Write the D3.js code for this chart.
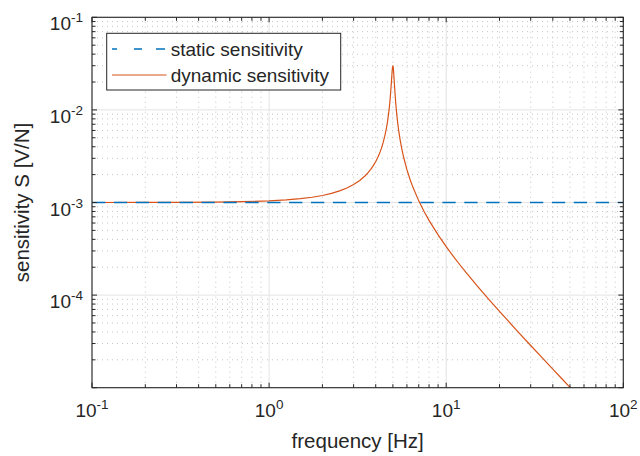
<!DOCTYPE html>
<html>
<head>
<meta charset="utf-8">
<script src="https://cdn.jsdelivr.net/npm/d3@7"></script>
<style>
  body { margin: 0; background: #fff; }
  svg { font-family: "Liberation Sans", Arial, Helvetica, sans-serif; }
</style>
</head>
<body>
<svg id="chart" width="640" height="456"></svg>
<script>
// values
var freq = [0.1, 0.2, 0.3, 0.5, 0.7, 1, 1.25, 1.5, 1.75, 2, 2.25, 2.5, 2.75, 3, 3.25, 3.5, 3.6, 3.75, 3.9, 4, 4.1, 4.2,
            4.25, 4.3, 4.4, 4.5, 4.6, 4.65, 4.7, 4.75, 4.8, 4.85, 4.9, 4.925, 4.95, 4.975,
            5, 5.025, 5.05, 5.075, 5.1, 5.15, 5.2, 5.25, 5.3, 5.35, 5.4, 5.5, 5.6, 5.75, 6, 6.25, 6.5, 7, 7.5,
            8, 9, 10, 11, 12, 13, 15, 17.5, 20, 25, 30, 35, 40, 45, 50, 60, 70, 100];
var dynamicSens = [1.0004e-3, 1.0016e-3, 1.0036e-3, 1.0101e-3, 1.020e-3, 1.0417e-3, 1.0667e-3, 1.0989e-3, 1.1396e-3, 1.1905e-3,
                   1.2539e-3, 1.3333e-3, 1.4337e-3, 1.5625e-3, 1.7316e-3, 1.959e-3, 2.0738e-3, 2.282e-3, 2.548e-3, 2.770e-3, 3.042e-3,
                   3.381e-3, 3.585e-3, 3.817e-3, 4.396e-3, 5.198e-3, 6.384e-3, 7.215e-3, 8.30e-3, 9.755e-3, 11.81e-3, 14.84e-3,
                   19.48e-3, 22.56e-3, 25.95e-3, 28.87e-3,
                   30.0e-3, 28.60e-3, 25.5e-3, 22.04e-3, 18.94e-3, 14.30e-3, 11.28e-3, 9.233e-3, 7.78e-3, 6.701e-3, 5.874e-3, 4.69e-3,
                   3.889e-3, 3.08e-3, 2.263e-3, 1.773e-3, 1.449e-3, 1.0413e-3, 0.8e-3,
                   0.641e-3, 0.4464e-3, 0.3333e-3, 0.2604e-3, 0.2101e-3, 0.1736e-3, 0.125e-3, 0.08889e-3, 0.0667e-3, 0.04167e-3,
                   0.02857e-3, 0.020833e-3, 0.01587e-3, 0.0125e-3, 0.0101e-3, 0.006993e-3, 0.005128e-3, 0.002506e-3];
var staticFreq = [0.1, 100];
var staticSens = [1e-3, 1e-3];
var xTickExp = [-1, 0, 1, 2];
var yTickExp = [-1, -2, -3, -4];
var seriesNames = ["static sensitivity", "dynamic sensitivity"];

var blue = "#0072BD", orange = "#D95319", ink = "#262626";

var width = 640, height = 456;
var m = {top: 17.3, right: 16.7, bottom: 68.3, left: 92};

var x = d3.scaleLog().domain([0.1, 100]).range([m.left, width - m.right]);
var y = d3.scaleLog().domain([1e-5, 1e-1]).range([height - m.bottom, m.top]);

var svg = d3.select("#chart");

function isMajor(v) {
  var e = Math.log10(v);
  return Math.abs(e - Math.round(e)) < 1e-9;
}

var xt = x.ticks(), yt = y.ticks();
var x0 = x.range()[0], x1 = x.range()[1], y0 = y.range()[0], y1 = y.range()[1];

// grid
var grid = svg.append("g");
grid.selectAll(".xminor").data(xt.filter(function(d) { return !isMajor(d); }))
  .enter().append("line")
    .attr("x1", function(d) { return x(d); }).attr("x2", function(d) { return x(d); })
    .attr("y1", y0).attr("y2", y1)
    .attr("stroke", "#c4c4c4").attr("stroke-dasharray", "1,4");
grid.selectAll(".yminor").data(yt.filter(function(d) { return !isMajor(d); }))
  .enter().append("line")
    .attr("y1", function(d) { return y(d); }).attr("y2", function(d) { return y(d); })
    .attr("x1", x0).attr("x2", x1)
    .attr("stroke", "#c4c4c4").attr("stroke-dasharray", "1,4");
grid.selectAll(".xmajor").data(xt.filter(isMajor))
  .enter().append("line")
    .attr("x1", function(d) { return x(d); }).attr("x2", function(d) { return x(d); })
    .attr("y1", y0).attr("y2", y1)
    .attr("stroke", "#e3e3e3");
grid.selectAll(".ymajor").data(yt.filter(isMajor))
  .enter().append("line")
    .attr("y1", function(d) { return y(d); }).attr("y2", function(d) { return y(d); })
    .attr("x1", x0).attr("x2", x1)
    .attr("stroke", "#e3e3e3");

// lines
svg.append("clipPath").attr("id", "plotclip")
  .append("rect").attr("x", x0).attr("y", y1).attr("width", x1 - x0).attr("height", y0 - y1);

var line = d3.line()
  .x(function(d) { return x(d[0]); })
  .y(function(d) { return y(d[1]); });

var plot = svg.append("g").attr("clip-path", "url(#plotclip)");

plot.append("path")
  .datum(d3.zip(freq, dynamicSens))
  .attr("d", line)
  .attr("fill", "none")
  .attr("stroke", orange)
  .attr("stroke-width", 1.2);

plot.append("path")
  .datum(d3.zip(staticFreq, staticSens))
  .attr("d", line)
  .attr("fill", "none")
  .attr("stroke", blue)
  .attr("stroke-width", 1.6)
  .attr("stroke-dasharray", "13.3,8.6");

// ticks on all four sides, pointing inward
var ticks = svg.append("g").attr("stroke", ink).attr("stroke-width", 1);
xt.forEach(function(d) {
  var len = isMajor(d) ? 5 : 3.5;
  ticks.append("line").attr("x1", x(d)).attr("x2", x(d)).attr("y1", y0).attr("y2", y0 - len);
  ticks.append("line").attr("x1", x(d)).attr("x2", x(d)).attr("y1", y1).attr("y2", y1 + len);
});
yt.forEach(function(d) {
  var len = isMajor(d) ? 5 : 3.5;
  ticks.append("line").attr("y1", y(d)).attr("y2", y(d)).attr("x1", x0).attr("x2", x0 + len);
  ticks.append("line").attr("y1", y(d)).attr("y2", y(d)).attr("x1", x1).attr("x2", x1 - len);
});

// axes box
svg.append("rect")
  .attr("x", x0).attr("y", y1).attr("width", x1 - x0).attr("height", y0 - y1)
  .attr("fill", "none").attr("stroke", ink).attr("stroke-width", 1.1);

// tick labels with superscripts
var xl = svg.selectAll(".xlab").data(xTickExp).enter().append("text")
  .attr("x", function(e) { return x(Math.pow(10, e)); })
  .attr("y", 417)
  .attr("text-anchor", "middle")
  .attr("font-size", 19)
  .attr("fill", ink)
  .text("10");
xl.append("tspan").attr("dy", -8).attr("font-size", 13.5).text(function(e) { return e; });

var yl = svg.selectAll(".ylab").data(yTickExp).enter().append("text")
  .attr("x", x0 - 9)
  .attr("y", function(e) { return y(Math.pow(10, e)) + 13; })
  .attr("text-anchor", "end")
  .attr("font-size", 19)
  .attr("fill", ink)
  .text("10");
yl.append("tspan").attr("dy", -8).attr("font-size", 13.5).text(function(e) { return e; });

// axis titles
svg.append("text")
  .attr("x", (x0 + x1) / 2).attr("y", 448)
  .attr("text-anchor", "middle")
  .attr("font-size", 20.5)
  .attr("fill", ink)
  .text("frequency [Hz]");

svg.append("text")
  .attr("transform", "translate(28.5," + ((y0 + y1) / 2) + ") rotate(-90)")
  .attr("text-anchor", "middle")
  .attr("font-size", 20.5)
  .attr("fill", ink)
  .text("sensitivity S [V/N]");

// legend
var lg = svg.append("g");
lg.append("rect")
  .attr("x", 106.7).attr("y", 33.3).attr("width", 234).attr("height", 56.7)
  .attr("fill", "#fff").attr("stroke", ink).attr("stroke-width", 1);

var legendRows = [
  {name: seriesNames[0], color: blue, width: 1.6, dash: "5,17,8,14,9"},
  {name: seriesNames[1], color: orange, width: 1.2, dash: null}
];
legendRows.forEach(function(r, i) {
  var ly = 49 + i * 26;
  lg.append("line")
    .attr("x1", 112).attr("x2", 166.5).attr("y1", ly).attr("y2", ly)
    .attr("stroke", r.color).attr("stroke-width", r.width)
    .attr("stroke-dasharray", r.dash);
  lg.append("text")
    .attr("x", 170.7).attr("y", ly + 6.5)
    .attr("font-size", 19)
    .attr("fill", ink)
    .text(r.name);
});
</script>
</body>
</html>
